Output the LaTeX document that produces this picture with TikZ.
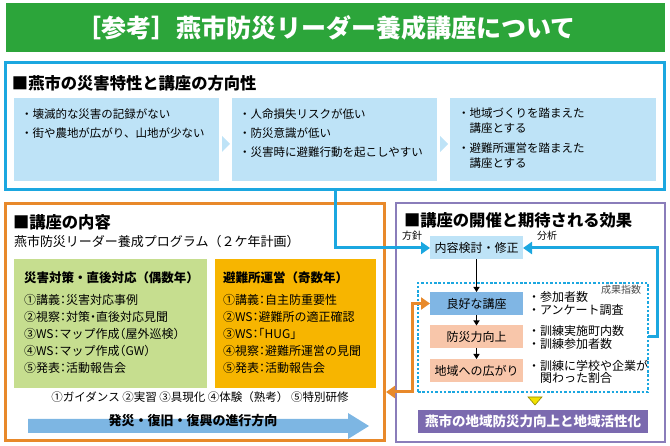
\documentclass[tikz,border=0pt]{standalone}
\usepackage{fontspec}
\setmainfont{Noto Sans CJK JP}
\usetikzlibrary{arrows.meta, calc}

\definecolor{titlegreen}{HTML}{2CA53A}
\definecolor{frameblue}{HTML}{1BA7E0}
\definecolor{paleblue}{HTML}{BEE3F7}
\definecolor{frameorange}{HTML}{E8892A}
\definecolor{leafgreen}{HTML}{C6DE8F}
\definecolor{gold}{HTML}{F7B500}
\definecolor{framepurple}{HTML}{8A7DBA}
\definecolor{resultpurple}{HTML}{7B6AAF}
\definecolor{midblue}{HTML}{80B6E4}
\definecolor{salmon}{HTML}{F8C6AA}
\definecolor{flowblue}{HTML}{7DB6E3}
\definecolor{triyellow}{HTML}{F2E200}

\newcommand\fsz[2]{\fontsize{#1}{#2}\selectfont}
\newcommand\halfpunct{\addfontfeature{RawFeature=+halt}}

\begin{document}
\begin{tikzpicture}[x=1pt,y=-1pt,
  every node/.style={inner sep=0pt,outer sep=0pt},
  frame/.style={anchor=north west,line width=#1},
  pane/.style={fill=paleblue,anchor=north west,minimum width=205pt,minimum height=83pt},
  head/.style={anchor=west,font=\fsz{16.3}{18}\bfseries},
  item/.style={anchor=west,align=left},
  stage/.style={minimum width=93pt,minimum height=23pt,font=\fsz{12}{14}},
  link/.style={line width=3pt,frameblue,-{Triangle[length=9pt,width=12pt]}},
  dual/.style={line width=3pt,frameorange,{Triangle[length=9pt,width=12pt]}-{Triangle[length=9pt,width=12pt]}},
  flow/.style={line width=1.2pt,-{Triangle[length=5pt,width=6pt]}}]
  % \draw (0,0) grid[step=50] (670,446);
  \useasboundingbox (0,0) rectangle (670,446);

  \node[fill=titlegreen,anchor=north west,minimum width=659pt,minimum height=49pt] (bar) at (5.5,3.5) {};
  \node[text=white,font=\fsz{25}{28}\bfseries] (title) at (326,28) {［参考］燕市防災リーダー養成講座について};

  \node[frame=3pt,draw=frameblue,minimum width=659pt,minimum height=127pt] (top) at (5.5,63) {};
  \node[head] (tophead) at (12,83) {■燕市の災害特性と講座の方向性};
  \node[pane] (risk) at (14,98) {};
  \node[pane] (aware) at (232,98) {};
  \node[pane,minimum width=206pt] (policy) at (450,98) {};
  \fill[paleblue] (222,136) -- (230,144) -- (222,152) -- cycle;
  \fill[paleblue] (440,136) -- (448,144) -- (440,152) -- cycle;
  \node[item,font=\fsz{11.5}{19}] (risktext) at (21,123.5) {・壊滅的な災害の記録がない\\・街や農地が広がり、山地が少ない};
  \node[item,font=\fsz{11.5}{19}] (awaretext) at (239,133) {・人命損失リスクが低い\\・防災意識が低い\\・災害時に避難行動を起こしやすい};
  \node[item,font=\fsz{11.5}{15}] (policytext) at (458,138) {・地域づくりを踏まえた\\\phantom{・}講座とする\\[5pt]・避難所運営を踏まえた\\\phantom{・}講座とする};

  \node[frame=3pt,draw=frameorange,minimum width=379pt,minimum height=237pt] (course) at (5,204) {};
  \node[head] (coursehead) at (13,222) {■講座の内容};
  \node[anchor=west,font=\fsz{13}{15}] (program) at (14,242) {燕市防災リーダー養成プログラム（２ケ年計画）};
  \node[fill=leafgreen,anchor=north west,minimum width=193pt,minimum height=129pt] (even) at (14,259) {};
  \node[fill=gold,anchor=north west,minimum width=161pt,minimum height=129pt] (odd) at (215,259) {};
  \node[anchor=west,font=\fsz{12.5}{14}\bfseries] (evenhead) at (24,278) {災害対策・直後対応（偶数年）};
  \node[anchor=west,font=\fsz{12.5}{14}\bfseries] (oddhead) at (223,278) {避難所運営（奇数年）};
  \node[item,font=\fsz{12}{17}\halfpunct] (evenlist) at (24,334) {①講義：災害対応事例\\②視察：対策・直後対応見聞\\③WS：マップ作成（屋外巡検）\\④WS：マップ作成（GW）\\⑤発表：活動報告会};
  \node[item,font=\fsz{12}{17}\halfpunct] (oddlist) at (223,334) {①講義：自主防重要性\\②WS：避難所の適正確認\\③WS：「HUG」\\④視察：避難所運営の見聞\\⑤発表：活動報告会};
  \node[font=\fsz{11.5}{14}] (steps) at (200,397) {①ガイダンス ②実習 ③具現化 ④体験（熟考） ⑤特別研修};
  \fill[flowblue] (28,419) -- (348,419) -- (348,413) -- (369,426) -- (348,439) -- (348,433) -- (28,433) -- cycle;
  \node[font=\fsz{13}{15}\bfseries] (direction) at (193,421) {発災・復旧・復興の進行方向};

  \node[frame=2pt,draw=framepurple,minimum width=269pt,minimum height=239pt] (effect) at (396,203) {};
  \node[head] (effecthead) at (404,220) {■講座の開催と期待される効果};
  \node[draw=frameblue,line width=2.5pt,dash pattern=on 2.5pt off 1.8pt,anchor=north west,minimum width=230pt,minimum height=109pt] (dots) at (418,283) {};
  \node[anchor=north east,font=\fsz{10}{12},text=black!70] (index) at (641,285) {成果指数};
  \node[stage,fill=paleblue] (plan) at (476.5,248) {内容検討・修正};
  \node[stage,fill=midblue] (good) at (476.5,303.5) {良好な講座};
  \node[stage,fill=salmon] (power) at (476.5,337) {防災力向上};
  \node[stage,fill=salmon] (spread) at (476.5,370.5) {地域への広がり};
  \node[font=\fsz{10}{12}] (policyword) at (412,236) {方針};
  \node[font=\fsz{10}{12}] (analysis) at (547,236) {分析};
  \node[item,font=\fsz{12}{13}] (goodnote) at (528,303.5) {・参加者数\\・アンケート調査};
  \node[item,font=\fsz{12}{13}] (powernote) at (528,337.5) {・訓練実施町内数\\・訓練参加者数};
  \node[item,font=\fsz{12}{12.5}] (spreadnote) at (528,372) {・訓練に学校や企業が\\\phantom{・}関わった割合};
  \filldraw[fill=triyellow,draw=olive,line width=0.6pt] (528,397) -- (542,397) -- (535,405) -- cycle;
  \node[fill=resultpurple,text=white,font=\fsz{13.5}{15}\bfseries,anchor=north west,minimum width=230pt,minimum height=23pt] (result) at (418,410) {燕市の地域防災力向上と地域活性化};

  \draw[flow] (plan.south) -- (good.north);
  \draw[flow] (good.south) -- (power.north);
  \draw[flow] (power.south) -- (spread.north);
  \draw[link] (top.south) |- (plan.west);
  \draw[link] (dots.east |- power) -- ++(9,0) |- (plan.east);
  \draw[dual] ([xshift=2pt]course.east |- dots.south) -| ([xshift=-18pt]good.west) -- (good.west);
\end{tikzpicture}
\end{document}
